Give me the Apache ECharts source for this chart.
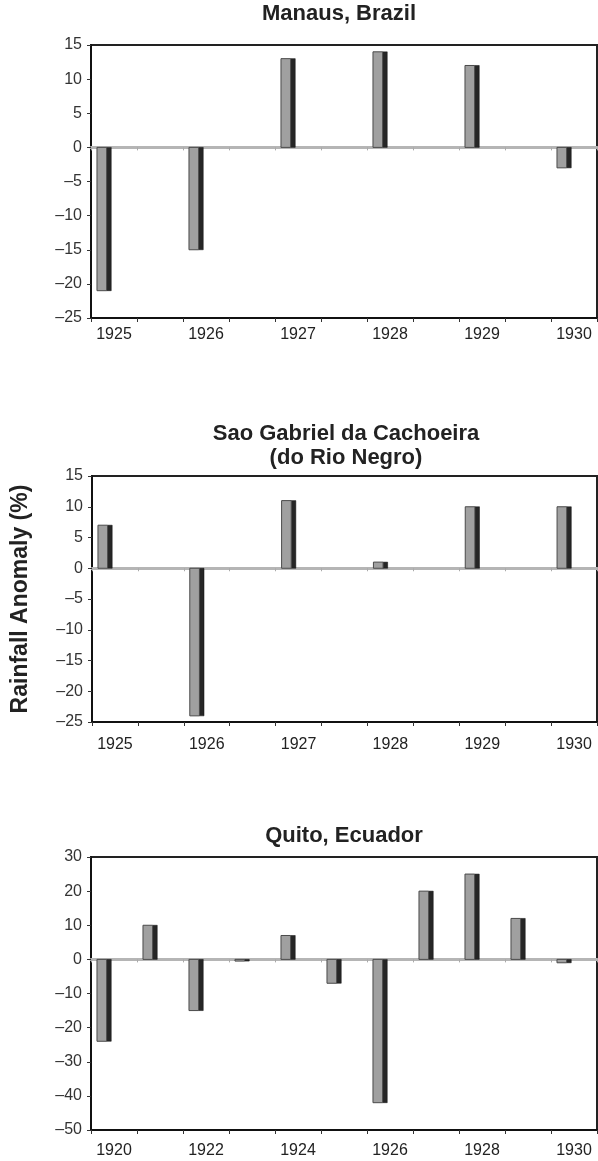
<!DOCTYPE html>
<html>
<head>
<meta charset="utf-8">
<script src="https://cdn.jsdelivr.net/npm/echarts@6/dist/echarts.min.js"></script>
<style>
  html, body { margin: 0; padding: 0; background: #fff; }
  #chart { width: 598px; height: 1161px; }
</style>
</head>
<body>
<div id="chart"></div>
<script>
// rainfall anomaly (%)
var brazilYears = ['1925', '1926', '1927', '1928', '1929', '1930'];
var manausValues = [-21, -15, 13, 14, 12, -3];
var saoGabrielValues = [7, -24, 11, 1, 10, 10];

var quitoYears = ['1920', '1921', '1922', '1923', '1924', '1925', '1926', '1927', '1928', '1929', '1930'];
var quitoValues = [-24, 10, -15, -0.5, 7, -7, -42, 20, 25, 12, -1];

var ticksBrazil = [-25, -20, -15, -10, -5, 0, 5, 10, 15];
var ticksQuito = [-50, -40, -30, -20, -10, 0, 10, 20, 30];

var FONT = '"Liberation Sans", Arial, sans-serif';

// the brazil panels put one year on every other slot (11 slots like quito)
var brazilSlots = [];
brazilYears.forEach(function (y, i) {
  brazilSlots.push(y);
  if (i < brazilYears.length - 1) brazilSlots.push('');
});
function toSlots(vals, step) {
  return vals.map(function (v, i) { return [i * step, v]; });
}

// 3d-ish column: light front face with a dark side on the right
function renderBar(params, api) {
  var idx = api.value(0);
  var v = api.value(1);
  var p = api.coord([idx, v]);
  var b = api.coord([idx, 0]);
  var slot = api.size([1, 0])[0];
  var x0 = p[0] - slot * 0.37;
  var fw = slot * 0.21;
  var sw = slot * 0.1;
  var yTop = Math.min(p[1], b[1]);
  var h = Math.max(Math.abs(b[1] - p[1]), 1.5);
  return {
    type: 'group',
    children: [
      {
        type: 'rect',
        shape: { x: x0 + fw, y: yTop, width: sw, height: h },
        style: { fill: '#262626', stroke: '#111', lineWidth: 0.5 }
      },
      {
        type: 'rect',
        shape: { x: x0, y: yTop, width: fw, height: h },
        style: { fill: '#a0a0a0', stroke: '#4a4a4a', lineWidth: 1 }
      }
    ]
  };
}

function yLabel(v) {
  return v < 0 ? '\u2013' + Math.abs(v) : String(v);
}

var grids = [
  { left: 91, top: 45, width: 506, height: 273 },
  { left: 92, top: 476, width: 505, height: 246 },
  { left: 91, top: 857, width: 506, height: 273 }
];
var cats = [brazilSlots, brazilSlots, quitoYears];
var ticks = [ticksBrazil, ticksBrazil, ticksQuito];
var xMargins = [9, 15, 13];

var xAxes = [], yAxes = [], series = [];
grids.forEach(function (g, i) {
  g.show = true;
  g.borderColor = '#222';
  g.borderWidth = 2;
  g.backgroundColor = '#fff';

  xAxes.push({
    type: 'category', gridIndex: i, data: cats[i], position: 'bottom',
    boundaryGap: true,
    axisLine: { onZero: false, lineStyle: { color: '#111', width: 2 } },
    axisTick: { show: true, interval: 0, length: 4, lineStyle: { color: '#333' } },
    axisLabel: {
      interval: i == 2 ? 1 : 0, color: '#222', fontSize: 16, fontFamily: FONT, margin: xMargins[i]
    },
    splitLine: { show: false }
  });
  // zero line with its small ticks
  xAxes.push({
    type: 'category', gridIndex: i, data: cats[i], position: 'top',
    boundaryGap: true,
    axisLine: { onZero: true, lineStyle: { color: '#b5b5b5', width: 3 } },
    axisTick: { show: true, inside: true, interval: 0, length: 3, lineStyle: { color: '#aaa' } },
    axisLabel: { show: false },
    splitLine: { show: false }
  });

  var t = ticks[i];
  yAxes.push({
    type: 'value', gridIndex: i,
    min: t[0], max: t[t.length - 1], interval: t[1] - t[0],
    axisLine: { show: true, lineStyle: { color: '#111', width: 2 } },
    axisTick: { show: true, length: 4, lineStyle: { color: '#333' } },
    axisLabel: { color: '#333', fontSize: 16, fontFamily: FONT, margin: 9, formatter: yLabel },
    splitLine: { show: false },
    name: i == 1 ? 'Rainfall Anomaly (%)' : '',
    nameLocation: 'middle',
    nameRotate: 90,
    nameGap: 60,
    nameTextStyle: { fontSize: 23, fontWeight: 'bold', color: '#222', fontFamily: FONT }
  });
});

var panelData = [
  toSlots(manausValues, 2),
  toSlots(saoGabrielValues, 2),
  toSlots(quitoValues, 1)
];
panelData.forEach(function (d, i) {
  series.push({
    type: 'custom',
    xAxisIndex: i * 2,
    yAxisIndex: i,
    renderItem: renderBar,
    encode: { x: 0, y: 1 },
    data: d,
    z: 5
  });
});

var titleStyle = { fontSize: 22, fontWeight: 'bold', color: '#222', fontFamily: FONT, lineHeight: 24 };

var chart = echarts.init(document.getElementById('chart'));
chart.setOption({
  animation: false,
  backgroundColor: '#fff',
  title: [
    { text: 'Manaus, Brazil', left: 334, top: -3, textAlign: 'center', textStyle: titleStyle },
    { text: 'Sao Gabriel da Cachoeira\n(do Rio Negro)', left: 341, top: 417, textAlign: 'center', textStyle: titleStyle },
    { text: 'Quito, Ecuador', left: 339, top: 819, textAlign: 'center', textStyle: titleStyle }
  ],
  grid: grids,
  xAxis: xAxes,
  yAxis: yAxes,
  series: series
});
</script>
</body>
</html>
